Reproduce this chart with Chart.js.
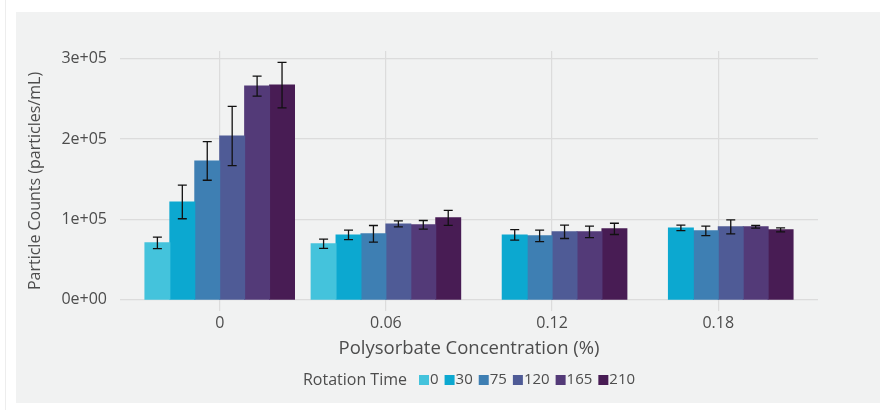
<!DOCTYPE html>
<html>
<head>
<meta charset="utf-8">
<script src="https://cdn.jsdelivr.net/npm/chart.js@4.4.0/dist/chart.umd.min.js"></script>
<style>
  html, body { margin: 0; padding: 0; background: #fff; }
  canvas { display: block; }
</style>
</head>
<body>
<canvas id="myChart" width="880" height="410"></canvas>
<script>
// categories on the x axis and the legend groups
const concentrations = ['0', '0.06', '0.12', '0.18'];
const rotationTimes = ['0', '30', '75', '120', '165', '210'];
const barColors = ['#44c3dc', '#0ca8d0', '#3e7fb3', '#4f5b96', '#533a78', '#481c54'];

// mean particle counts, one value per concentration (null = not measured)
const counts0 = [70800, 69600, null, null];
const counts30 = [121700, 80700, 80700, 89400];
const counts75 = [172700, 82000, 79500, 85700];
const counts120 = [203700, 94400, 84500, 90700];
const counts165 = [265800, 93200, 84500, 90700];
const counts210 = [267100, 101900, 88200, 87000];

// error bar half heights
const err0 = [7100, 5800, null, null];
const err30 = [20900, 6000, 6600, 3500];
const err75 = [24000, 10400, 7200, 5800];
const err120 = [36800, 3700, 8300, 8700];
const err165 = [12400, 5400, 7200, 1700];
const err210 = [28300, 9300, 7000, 2500];

const yTicks = [0, 100000, 200000, 300000];

const allCounts = [counts0, counts30, counts75, counts120, counts165, counts210];
const allErrors = [err0, err30, err75, err120, err165, err210];

const textColor = '#4d4d4d';
const gridColor = '#dcdcdc';

// 3e+05 style labels
function sci(v) {
  const parts = v.toExponential(0).split('e');
  const n = parseInt(parts[1]);
  return parts[0] + 'e' + (n < 0 ? '-' : '+') + String(Math.abs(n)).padStart(2, '0');
}

const datasets = rotationTimes.map((t, i) => ({
  label: t,
  data: allCounts[i].map((v, j) => ({ x: j + 1, y: v })),
  errors: allErrors[i],
  backgroundColor: barColors[i],
  borderWidth: 0,
  inflateAmount: 0.5,
  categoryPercentage: 0.9,
  barPercentage: 1.0
}));

// grey panel behind the chart
const panel = {
  id: 'panel',
  beforeDraw(chart) {
    const ctx = chart.ctx;
    ctx.save();
    ctx.fillStyle = '#ffffff';
    ctx.fillRect(0, 0, chart.width, chart.height);
    ctx.fillStyle = '#f1f2f2';
    ctx.fillRect(16, 12, chart.width - 16, chart.height - 19);
    ctx.strokeStyle = '#ededed';
    ctx.lineWidth = 1;
    ctx.beginPath();
    ctx.moveTo(5.5, 0);
    ctx.lineTo(5.5, chart.height);
    ctx.stroke();
    ctx.restore();
  }
};

const errorBars = {
  id: 'errorBars',
  afterDatasetsDraw(chart) {
    const ctx = chart.ctx;
    const yScale = chart.scales.y;
    ctx.save();
    ctx.strokeStyle = '#111111';
    ctx.lineWidth = 1.3;
    chart.data.datasets.forEach((ds, i) => {
      const meta = chart.getDatasetMeta(i);
      meta.data.forEach((bar, j) => {
        const v = ds.data[j].y;
        const e = ds.errors[j];
        if (v == null || e == null) return;
        const top = yScale.getPixelForValue(v + e);
        const bot = yScale.getPixelForValue(v - e);
        const half = 4.5;
        ctx.beginPath();
        ctx.moveTo(bar.x, top);
        ctx.lineTo(bar.x, bot);
        ctx.moveTo(bar.x - half, top);
        ctx.lineTo(bar.x + half, top);
        ctx.moveTo(bar.x - half, bot);
        ctx.lineTo(bar.x + half, bot);
        ctx.stroke();
      });
    });
    ctx.restore();
  }
};

// one-row legend with the title on the left
const legendRow = {
  id: 'legendRow',
  afterDraw(chart) {
    const ctx = chart.ctx;
    const area = chart.chartArea;
    ctx.save();
    ctx.textBaseline = 'middle';
    ctx.textAlign = 'left';
    ctx.fillStyle = textColor;
    const title = 'Rotation Time';
    const titleGap = 12, box = 10, boxGap = 1, itemGap = 6;
    ctx.font = '16px "Open Sans"';
    const titleWidth = ctx.measureText(title).width;
    ctx.font = '15px "Open Sans"';
    const widths = rotationTimes.map(t => ctx.measureText(t).width);
    let total = titleWidth + titleGap;
    widths.forEach(w => { total += box + boxGap + w + itemGap; });
    total -= itemGap;
    let x = (area.left + area.right) / 2 - total / 2;
    const y = chart.height - 30;
    ctx.font = '16px "Open Sans"';
    ctx.fillText(title, x, y);
    x += titleWidth + titleGap;
    ctx.font = '15px "Open Sans"';
    rotationTimes.forEach((t, i) => {
      ctx.fillStyle = barColors[i];
      ctx.fillRect(x, y - box / 2, box, box);
      x += box + boxGap;
      ctx.fillStyle = textColor;
      ctx.fillText(t, x, y);
      x += widths[i] + itemGap;
    });
    ctx.restore();
  }
};

const ctx = document.getElementById('myChart').getContext('2d');

const myChart = new Chart(ctx, {
  type: 'bar',
  data: { datasets: datasets },
  plugins: [panel, errorBars, legendRow],
  options: {
    responsive: false,
    animation: false,
    layout: { padding: { left: 0, top: 51, right: 62, bottom: 39 } },
    plugins: {
      legend: { display: false },
      tooltip: { enabled: false }
    },
    scales: {
      x: {
        type: 'linear',
        min: 0.4,
        max: 4.6,
        offset: false,
        afterFit: (scale) => { scale.height = 60; },
        afterBuildTicks: (scale) => {
          scale.ticks = concentrations.map((c, i) => ({ value: i + 1 }));
        },
        grid: { color: gridColor, lineWidth: 1.2, drawTicks: false, offset: false },
        border: { display: false },
        ticks: {
          padding: 3,
          color: textColor,
          font: { family: 'Open Sans', size: 16 },
          callback: (v) => concentrations[Math.round(v) - 1]
        },
        title: {
          display: true,
          text: 'Polysorbate Concentration (%)',
          color: textColor,
          font: { family: 'Open Sans', size: 18.5 },
          padding: { top: 0, bottom: 10.9 }
        }
      },
      y: {
        min: -14000,
        max: 309500,
        afterFit: (scale) => { scale.width = 120; },
        afterBuildTicks: (scale) => {
          scale.ticks = yTicks.map(v => ({ value: v }));
        },
        grid: { color: gridColor, lineWidth: 1.2, drawTicks: false },
        border: { display: false },
        ticks: {
          padding: 13,
          color: textColor,
          font: { family: 'Open Sans', size: 16 },
          callback: (v) => sci(v)
        },
        title: {
          display: true,
          text: 'Particle Counts (particles/mL)',
          color: textColor,
          font: { family: 'Open Sans', size: 16 },
          padding: { top: 25.4, bottom: 0 }
        }
      }
    }
  }
});
</script>
</body>
</html>
